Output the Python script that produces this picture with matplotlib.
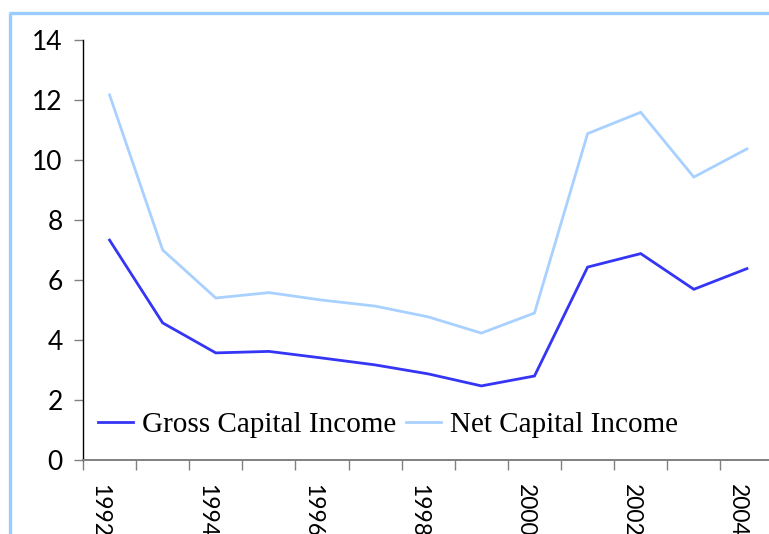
import matplotlib
matplotlib.use("Agg")
import matplotlib.pyplot as plt
from matplotlib.lines import Line2D

years = [1992, 1993, 1994, 1995, 1996, 1997, 1998, 1999, 2000, 2001, 2002, 2003, 2004]
gross = [7.33, 4.57, 3.57, 3.62, 3.40, 3.17, 2.87, 2.47, 2.80, 6.43, 6.88, 5.69, 6.38]
net = [12.17, 7.00, 5.40, 5.58, 5.33, 5.13, 4.77, 4.23, 4.90, 10.88, 11.59, 9.43, 10.37]
yticks = [0, 2, 4, 6, 8, 10, 12, 14]
series_names = ["Gross Capital Income", "Net Capital Income"]

W, H = 769, 534
fig = plt.figure(figsize=(W / 100, H / 100), dpi=100)
ax = fig.add_axes([83 / W, (H - 460) / H, 690.5 / W, 420 / H])

x = list(range(len(years)))
ax.plot(x, gross, color="#3535f5", lw=2.0, label=series_names[0], solid_joinstyle="miter")
ax.plot(x, net, color="#a9d1ff", lw=2.0, label=series_names[1], solid_joinstyle="miter")

ax.set_xlim(-0.5, len(years) - 0.5)
ax.set_ylim(0, 14)
ax.set_yticks(yticks)
ax.set_yticklabels([str(v) for v in yticks], fontsize=19, fontfamily="Lato")
ax.tick_params(axis="y", length=6.5, width=1, color="#808080", pad=8.0, direction="out")

bounds = [i - 0.5 for i in range(len(years) + 1)]
ax.set_xticks(bounds)
ax.set_xticklabels([])
ax.tick_params(axis="x", length=7, width=1, color="#808080", direction="out")

for xi, yr in zip(x, years):
    if (yr - years[0]) % 2 == 0:
        ax.text(xi - 0.18, -0.057, str(yr), transform=ax.get_xaxis_transform(),
                rotation=-90, ha="center", va="top", fontsize=16.5, fontfamily="Lato",
                clip_on=False)

for s in ["top", "right"]:
    ax.spines[s].set_visible(False)
ax.spines["left"].set_color("black")
ax.spines["left"].set_linewidth(1.0)
ax.spines["bottom"].set_color("#808080")
ax.spines["bottom"].set_linewidth(1.4)

leg = ax.legend(loc="center left", bbox_to_anchor=(15 / 690.5, 35 / 420), ncol=2, frameon=False,
                prop={"family": "Liberation Serif", "size": 21},
                handlelength=1.2, handletextpad=0.3, columnspacing=0.35,
                borderaxespad=0.0, borderpad=0.0)

fig.add_artist(Line2D([10 / W, 10 / W], [0, (H - 12.5) / H], color="#99ccff", lw=2.4,
                      transform=fig.transFigure, solid_capstyle="butt"))
fig.add_artist(Line2D([8.8 / W, 1], [(H - 12.5) / H, (H - 12.5) / H], color="#99ccff", lw=2.4,
                      transform=fig.transFigure, solid_capstyle="butt"))

fig.savefig("out.png", dpi=100)
